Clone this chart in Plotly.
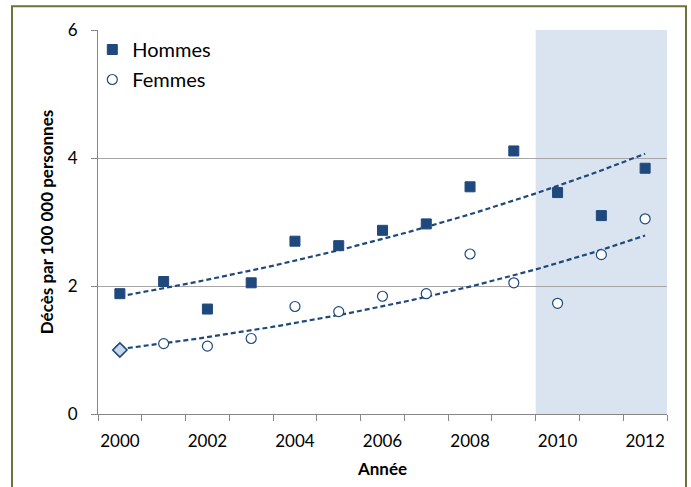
import numpy as np
import plotly.graph_objects as go

years = list(range(2000, 2013))
hommes = [1.88, 2.07, 1.64, 2.05, 2.70, 2.63, 2.87, 2.97, 3.55, 4.11, 3.46, 3.10, 3.84]
femmes = [1.00, 1.10, 1.06, 1.18, 1.68, 1.60, 1.84, 1.88, 2.50, 2.05, 1.73, 2.49, 3.05]
tick_labels = ["2000", "2002", "2004", "2006", "2008", "2010", "2012"]
tick_years = [2000, 2002, 2004, 2006, 2008, 2010, 2012]
shade_start, shade_end = 2009.5, 2012.5

BLUE = "#1f497d"
GRID = "#a6a6a6"
AXIS = "#868686"
FONT = "Lato"

def exp_fit(x, y):
    t = np.array(x, dtype=float) - x[0]
    b, a = np.polyfit(t, np.log(np.array(y)), 1)
    tt = np.linspace(t[0], t[-1], 100)
    return tt + x[0], np.exp(a + b * tt)

fig = go.Figure()

hx, hy = exp_fit(years, hommes)
fx, fy = exp_fit(years, femmes)

fig.add_trace(go.Scatter(x=hx, y=hy, mode="lines", showlegend=False, hoverinfo="skip",
                         line=dict(color=BLUE, width=2.2, dash="5px,3px")))
fig.add_trace(go.Scatter(x=fx, y=fy, mode="lines", showlegend=False, hoverinfo="skip",
                         line=dict(color=BLUE, width=2.2, dash="5px,3px")))

fig.add_trace(go.Scatter(x=years, y=hommes, mode="markers", name="Hommes", legendgroup="h",
                         marker=dict(symbol="square", size=10, color=BLUE,
                                     line=dict(color=BLUE, width=1))))
fig.add_trace(go.Scatter(x=years, y=femmes, mode="markers", name="Femmes", legendgroup="f",
                         marker=dict(symbol="circle", size=10, color="white",
                                     line=dict(color=BLUE, width=1.2))))
# first point of Femmes appears as a light diamond in the original
fig.add_trace(go.Scatter(x=years[:1], y=femmes[:1], mode="markers", showlegend=False,
                         marker=dict(symbol="diamond", size=11, color="#c9d7ea",
                                     line=dict(color=BLUE, width=1.6))))

fig.add_shape(type="rect", xref="x", yref="paper", x0=shade_start, x1=shade_end, y0=0, y1=1,
              fillcolor="#dae4f0", line=dict(width=0), layer="below")

# outer border
L, R, T, B = 98, 667, 30, 417
W, H = R - L, B - T
fig.add_shape(type="rect", xref="paper", yref="paper",
              x0=(12 - L) / W, x1=(686 - L) / W, y0=(B - 6) / H, y1=(B - 500) / H,
              line=dict(color="#71713a", width=2), fillcolor="rgba(0,0,0,0)", layer="above")

fig.update_layout(
    width=691, height=487,
    margin=dict(l=L, r=691 - R, t=T, b=487 - B),
    paper_bgcolor="white", plot_bgcolor="white",
    font=dict(family=FONT, color="black", size=17),
    legend=dict(x=-0.01, y=1.0, xanchor="left", yanchor="top", bgcolor="rgba(0,0,0,0)",
                font=dict(size=20, family=FONT), traceorder="grouped", tracegroupgap=1,
                itemsizing="trace"),
    xaxis=dict(range=[1999.5, 2012.5], tickmode="array", tickvals=tick_years, ticktext=tick_labels,
               ticks="", showgrid=False, showline=True, linecolor=AXIS, linewidth=1,
               zeroline=False, ticklabelstandoff=12, tickfont=dict(size=17),
               minor=dict(tickmode="linear", tick0=1999.5, dtick=1, ticks="outside",
                          ticklen=6, tickcolor=AXIS, showgrid=False),
               title=dict(text="<b>Année</b>", font=dict(size=17), standoff=12)),
    yaxis=dict(range=[0, 6], tickmode="linear", tick0=0, dtick=2, showgrid=True, gridcolor=GRID,
               gridwidth=1, showline=True, linecolor=AXIS, linewidth=1, zeroline=False,
               ticks="outside", ticklen=6, tickcolor=AXIS, ticklabelstandoff=10,
               tickfont=dict(size=17),
               title=dict(text="<b>Décès par 100 000 personnes</b>", font=dict(size=17), standoff=9)),
)

fig.write_html("out.html", config={"displayModeBar": False},
               post_script="document.body.style.margin='0';")
